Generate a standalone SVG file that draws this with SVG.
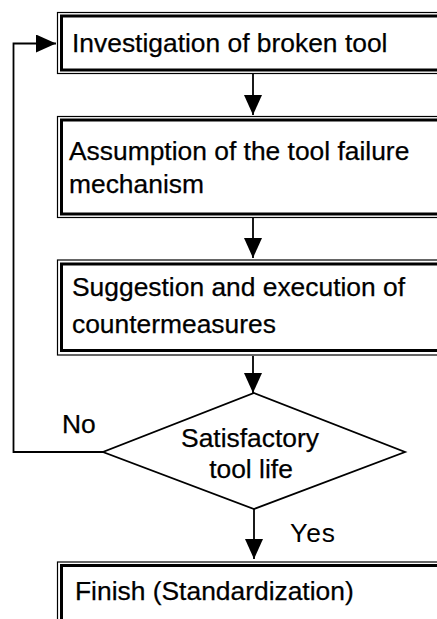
<svg xmlns="http://www.w3.org/2000/svg" width="437" height="619" viewBox="0 0 437 619">
<defs>
<style>
.outer{fill:none;stroke:#000;stroke-width:1.2}
.inner{fill:#fff;stroke:#000;stroke-width:3}
.t{font-family:"Liberation Sans",Arial,sans-serif;font-size:26.4px;fill:#000;stroke:#000;stroke-width:0.25}
.line{fill:none;stroke:#000;stroke-width:1.8}
</style>
<marker id="ah" viewBox="0 0 20 18" refX="20" refY="9" markerWidth="20" markerHeight="18" markerUnits="userSpaceOnUse" orient="auto">
<path d="M0,0 L20,9 L0,18 Z" fill="#000"/>
</marker>
</defs>
<rect width="437" height="619" fill="#fff"/>
<g id="connectors">
<line class="line" x1="253" y1="74" x2="253" y2="115" marker-end="url(#ah)"/>
<line class="line" x1="253" y1="218" x2="253" y2="258" marker-end="url(#ah)"/>
<line class="line" x1="253" y1="356" x2="253" y2="393" marker-end="url(#ah)"/>
<line class="line" x1="254" y1="508" x2="254" y2="559" marker-end="url(#ah)"/>
<polyline class="line" points="103,452 13.5,452 13.5,43.5 56,43.5" marker-end="url(#ah)"/>
</g>
<g id="box1">
<rect class="outer" x="57.5" y="12.5" width="400" height="61"/>
<rect class="inner" x="61.5" y="16" width="400" height="54"/>
<text class="t" x="72" y="52">Investigation of broken tool</text>
</g>
<g id="box2">
<rect class="outer" x="57.5" y="116.5" width="400" height="101"/>
<rect class="inner" x="61.5" y="120" width="400" height="94"/>
<text class="t" x="69" y="160">Assumption of the tool failure</text>
<text class="t" x="69" y="193">mechanism</text>
</g>
<g id="box3">
<rect class="outer" x="57.5" y="260" width="400" height="95"/>
<rect class="inner" x="61.5" y="264" width="400" height="86.5"/>
<text class="t" x="72" y="296">Suggestion and execution of</text>
<text class="t" x="72" y="333">countermeasures</text>
</g>
<g id="decision">
<polygon points="254,393 405,452 254,509 103,452" fill="#fff" stroke="#000" stroke-width="1.8"/>
<text class="t" x="250" y="447" text-anchor="middle">Satisfactory</text>
<text class="t" x="251" y="478" text-anchor="middle">tool life</text>
</g>
<g id="labels">
<text class="t" x="62" y="433">No</text>
<text class="t" x="290" y="542" letter-spacing="1" style="stroke-width:0">Yes</text>
</g>
<g id="box4">
<rect class="outer" x="57.5" y="562" width="400" height="70"/>
<rect class="inner" x="61.5" y="565.5" width="400" height="60"/>
<text class="t" x="75" y="600">Finish (Standardization)</text>
</g>
</svg>
